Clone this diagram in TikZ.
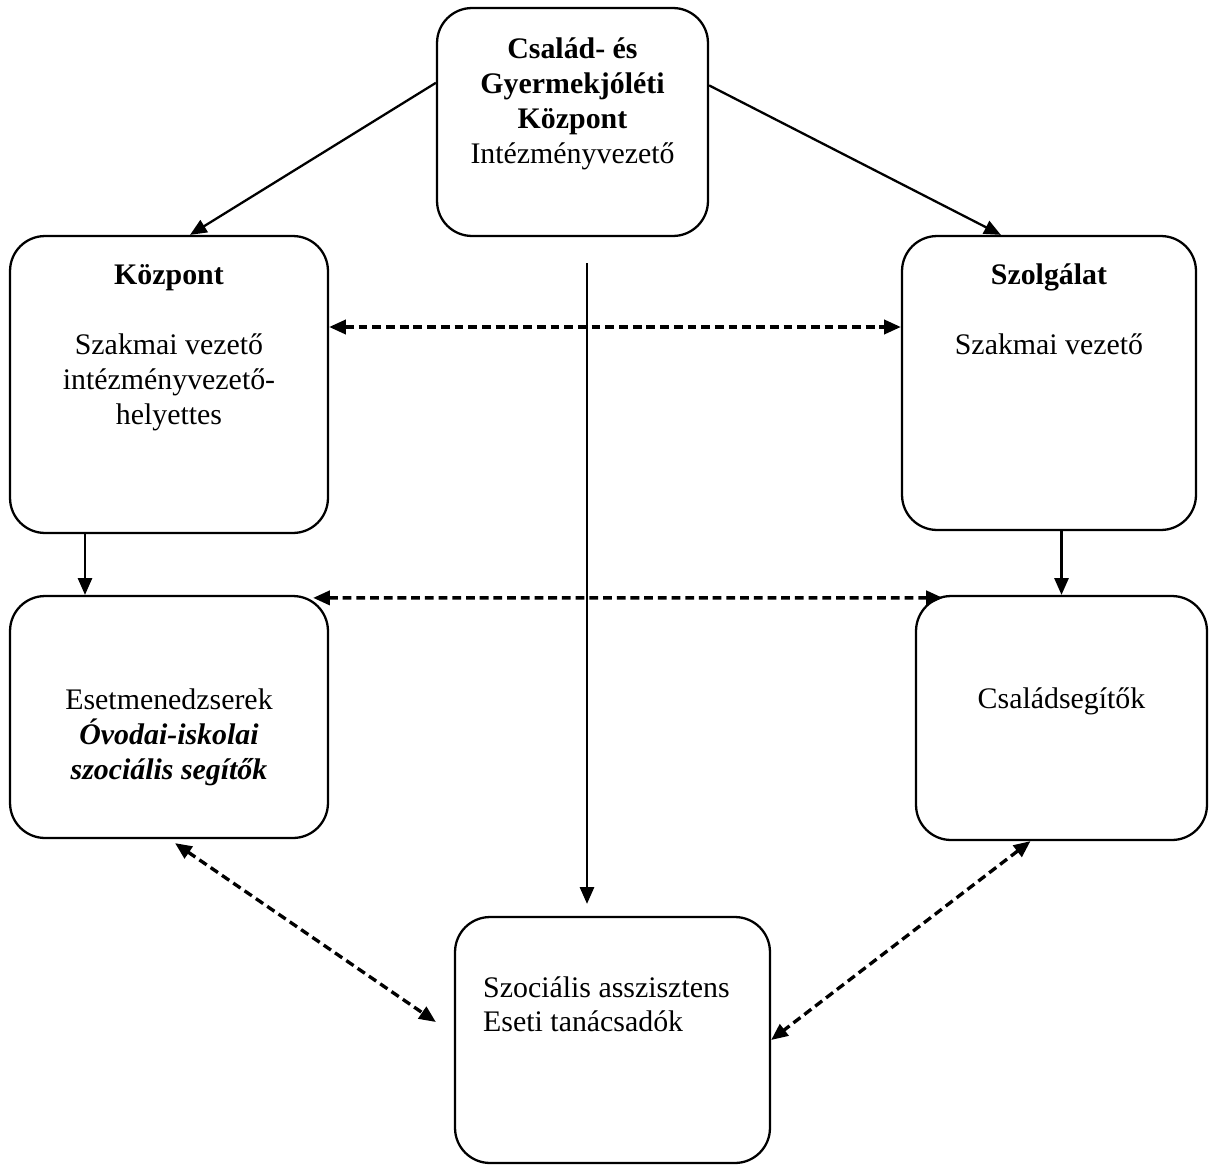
\documentclass[tikz,border=0pt]{standalone}
\usepackage{fontspec}
\setmainfont{Liberation Serif}
\usetikzlibrary{positioning, calc, arrows.meta}

\begin{document}
\begin{tikzpicture}[x=0.02cm, y=-0.02cm, >={Triangle[length=9.5pt,width=8pt]}, % Arrow tip style
                    box/.style={draw, rectangle, rounded corners=0.7cm, line width=1.3pt, inner sep=0pt},
                    boxtext/.style={align=center, inner sep=0pt, font=\fontsize{17}{19.9}\selectfont},
                    solidarrow/.style={line width=1.3pt, ->},
                    dasharrow/.style={line width=1.9pt, <->, dash pattern=on 5pt off 2.8pt}]
                    \useasboundingbox (0,0) rectangle (1217,1166);

                    % Boxes of the organisation
                    \node[box, minimum width=5.42cm, minimum height=4.56cm] (top) at (572.5,122) {};
                    \node[box, minimum width=6.36cm, minimum height=5.94cm] (kozpont) at (169,384.5) {};
                    \node[box, minimum width=5.88cm, minimum height=5.88cm] (szolg) at (1049,383) {};
                    \node[box, minimum width=6.36cm, minimum height=4.84cm] (eset) at (169,717) {};
                    \node[box, minimum width=5.82cm, minimum height=4.88cm] (csalad) at (1061.5,718) {};
                    \node[box, minimum width=6.30cm, minimum height=4.92cm] (szoc) at (612.5,1040) {};

                    % Texts inside the boxes
                    \node[boxtext, anchor=north, below=0.62cm of top.north] (topText)
                        {\textbf{Család- és}\\ \textbf{Gyermekjóléti}\\ \textbf{Központ}\\ Intézményvezető};
                    \node[boxtext, anchor=north, below=0.58cm of kozpont.north] (kozpontText)
                        {\textbf{Központ}\\[19.9pt] Szakmai vezető\\ intézményvezető-\\ helyettes};
                    \node[boxtext, anchor=north, below=0.58cm of szolg.north] (szolgText)
                        {\textbf{Szolgálat}\\[19.9pt] Szakmai vezető};
                    \node[boxtext, anchor=north, below=1.88cm of eset.north] (esetText)
                        {Esetmenedzserek\\ \textbf{\textit{Óvodai-iskolai}}\\ \textbf{\textit{szociális segítők}}};
                    \node[boxtext, anchor=north, below=1.86cm of csalad.north] (csaladText)
                        {Családsegítők};
                    \node[boxtext, align=left, anchor=north west] (szocText) at ($(szoc.north west)+(29,60)$)
                        {Szociális asszisztens\\ Eseti tanácsadók};

                    % Solid arrows
                    \coordinate (vstart) at (587,263);
                    \draw[solidarrow] (top.164.7) -- (kozpont.82.7);
                    \draw[solidarrow] (top.15.3) -- (szolg.108.4);
                    \draw[solidarrow, shorten >=0.24cm] (vstart) -- (vstart |- szoc.north);
                    \draw[solidarrow] ($(kozpont.south)+(-84,0)$) -- ($(eset.north)+(-84,0)$);
                    \draw[solidarrow] (csalad.north |- szolg.south) -- (csalad.north);

                    % Dashed double arrows
                    \coordinate (lvl) at (0,327);
                    \draw[dasharrow] (kozpont.east |- lvl) -- (szolg.west |- lvl);
                    \draw[dasharrow] ($(eset.north east)+(-16,3)$) -- ($(csalad.north west)+(28,3)$);
                    \draw[dasharrow] ($(eset.south)+(6,4)$) -- ($(szoc.west)+(-18,-18)$);
                    \draw[dasharrow] ($(csalad.south)+(-31,0)$) -- (szoc.east);

                \end{tikzpicture}
\end{document}
